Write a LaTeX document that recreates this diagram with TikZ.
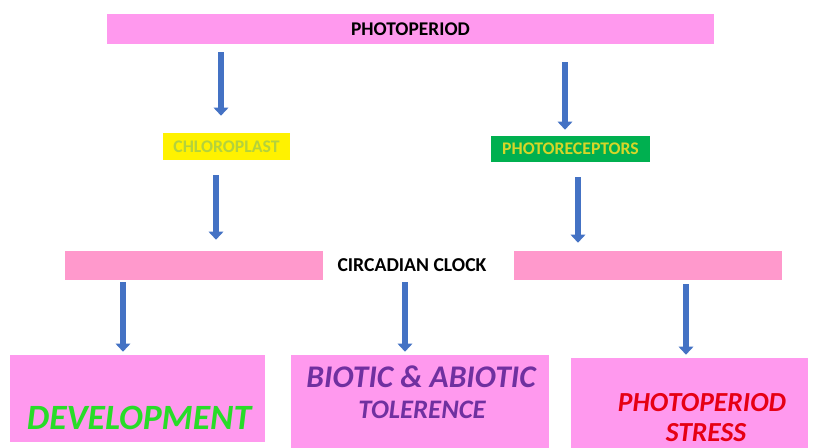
\documentclass[tikz,border=0pt]{standalone}
\usepackage{fontspec}
\setmainfont{Carlito}
\usetikzlibrary{arrows.meta}
\definecolor{barpink}{RGB}{255,153,238}
\definecolor{clockpink}{RGB}{255,153,204}
\definecolor{leafgreen}{RGB}{0,176,80}
\definecolor{chlorotext}{RGB}{180,210,60}
\definecolor{receptext}{RGB}{214,214,40}
\definecolor{flowblue}{RGB}{68,114,196}
\definecolor{devgreen}{RGB}{40,220,40}
\definecolor{tolpurple}{RGB}{112,48,160}
\definecolor{stressred}{RGB}{230,0,20}
\tikzset{
  bar/.style={fill=barpink,inner sep=0pt,font=\bfseries\fontsize{13.8}{15}\selectfont},
  tag/.style={inner sep=0pt,font=\bfseries\fontsize{12.6}{14}\selectfont},
  outcome/.style={fill=barpink,inner sep=0pt},
  flow/.style={draw=flowblue,line width=0.15cm,-{Triangle[width=0.36cm,length=0.2cm]}}
}
\begin{document}
\begin{tikzpicture}[x=0.025cm,y=-0.025cm]
    \useasboundingbox[fill=white] (0,0) rectangle (818,448);
    % top bar
    \node[bar,minimum width=15.175cm,minimum height=0.75cm] (photo) at (410.5,29) {PHOTOPERIOD};
    % middle tags
    \node[tag,fill=yellow,text=chlorotext,minimum width=3.175cm,minimum height=0.675cm] (chloro) at (226.5,146.5) {CHLOROPLAST};
    \node[tag,fill=leafgreen,text=receptext,minimum width=3.975cm,minimum height=0.65cm] (recep) at (570.5,149) {PHOTORECEPTORS};
    % clock bar with white middle
    \node[fill=clockpink,inner sep=0pt,minimum width=17.925cm,minimum height=0.725cm] (clock) at (423.5,265.5) {};
    \node[fill=white,inner sep=0pt,minimum width=4.775cm,minimum height=0.725cm] (clockgap) at (418.5,265.5) {};
    \node[font=\bfseries\fontsize{14}{15}\selectfont] (clocktext) at (412,265.5) {CIRCADIAN CLOCK};
    % outcome boxes
    \node[outcome,minimum width=6.375cm,minimum height=2.175cm] (dev) at (137.5,398.5) {};
    \node[outcome,minimum width=6.45cm,minimum height=2.325cm] (tol) at (420,401.5) {};
    \node[outcome,minimum width=5.925cm,minimum height=2.25cm] (stress) at (689.5,403) {};
    \node[text=devgreen,font=\bfseries\itshape\fontsize{25.3}{27}\selectfont] (devtext) at (139,418) {DEVELOPMENT};
    \node[text=tolpurple,font=\bfseries\itshape\fontsize{22.4}{24}\selectfont] (toltop) at (421,377) {BIOTIC \& ABIOTIC};
    \node[text=tolpurple,font=\bfseries\itshape\fontsize{19}{21}\selectfont] (tolbot) at (422,410) {TOLERENCE};
    \node[text=stressred,font=\bfseries\itshape\fontsize{19.6}{21}\selectfont] (stresstop) at (702,403) {PHOTOPERIOD};
    \node[text=stressred,font=\bfseries\itshape\fontsize{19.6}{21}\selectfont] (stressbot) at (706,433) {STRESS};
    % arrows
    \draw[flow,shorten <=0.2cm,shorten >=0.425cm] (photo.south -| 221,0) -- (chloro.north -| 221,0);
    \draw[flow,shorten <=0.45cm,shorten >=0.15cm] (photo.south -| 565,0) -- (recep.north -| 565,0);
    \draw[flow,shorten <=0.375cm,shorten >=0.275cm] (chloro.south -| 216,0) -- (clock.north -| 216,0);
    \draw[flow,shorten <=0.375cm,shorten >=0.2cm] (recep.south -| 578,0) -- (clock.north -| 578,0);
    \draw[flow,shorten <=0.05cm,shorten >=0.075cm] (clock.south -| 123,0) -- (dev.north -| 123,0);
    \draw[flow,shorten <=0.05cm,shorten >=0.075cm] (clock.south -| 405,0) -- (tol.north -| 405,0);
    \draw[flow,shorten <=0.1cm,shorten >=0.075cm] (clock.south -| 686,0) -- (stress.north -| 686,0);
\end{tikzpicture}
\end{document}
